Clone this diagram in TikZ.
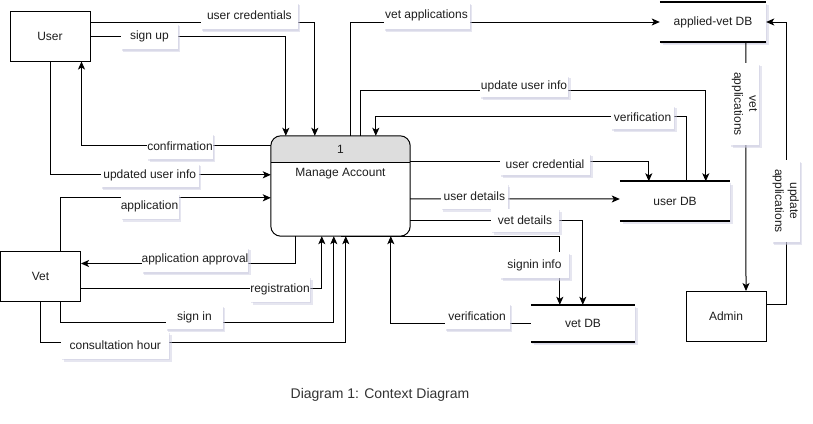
\documentclass[tikz,border=0pt]{standalone}
\usepackage{fontspec}
\setmainfont{Liberation Sans}
\usetikzlibrary{arrows.meta,calc,shadows}
\definecolor{shd}{RGB}{200,200,222}
\definecolor{hdr}{RGB}{221,221,221}
\definecolor{txt}{RGB}{30,30,30}
\begin{document}
\begin{tikzpicture}[x=1pt,y=-1pt,
  font=\fontsize{12}{15}\selectfont,
  ent/.style={draw, line width=1pt, fill=white, minimum width=80pt, minimum height=50pt, inner sep=0pt, text=txt},
  softshadow/.style={drop shadow={shadow xshift=1pt,shadow yshift=-1.5pt,fill=shd,opacity=0.45},
                     drop shadow={shadow xshift=2.5pt,shadow yshift=-3pt,fill=shd,opacity=0.45}},
  store/.style={fill=white, inner sep=0pt, text=txt, softshadow},
  storeline/.style={line width=2pt},
  flow/.style={draw, line width=1pt, -{Stealth[length=8pt,width=7pt,inset=2pt]}},
  lbl/.style={fill=white, inner sep=0pt, text=txt, softshadow}]
\useasboundingbox (0,0) rectangle (813,423);

% entities
\node[ent] (user) at (50,36) {User};
\node[ent] (vet) at (40.5,276.5) {Vet};
\node[ent] (admin) at (726,316.5) {Admin};

% data stores
\node[store, minimum width=110pt, minimum height=39pt] (udb) at (675,201) {user DB};
\node[store, minimum width=106pt, minimum height=40pt] (avdb) at (713,22) {applied-vet DB};
\node[store, minimum width=104pt, minimum height=37pt] (vdb) at (583,323.5) {vet DB};
\foreach \s in {udb,avdb,vdb}{
  \draw[storeline] (\s.north west) -- (\s.north east) (\s.south west) -- (\s.south east);
}

% process
\node[minimum width=139pt, minimum height=100pt, inner sep=0pt] (ma) at (340.5,186) {};
\begin{scope}
  \clip[rounded corners=10pt] (ma.north west) rectangle (ma.south east);
  \fill[hdr] (ma.north west) rectangle ($(ma.north east)+(0,27)$);
\end{scope}
\draw[line width=1pt, rounded corners=10pt] (ma.north west) rectangle (ma.south east);
\draw[line width=1pt] ($(ma.north west)+(0,27)$) -- ($(ma.north east)+(0,27)$);
\node[text=txt] (manum) at ($(ma.north)+(0,13.5)$) {1};
\node[text=txt] (matitle) at ($(ma.north)+(0,38)$) {Manage Account};

% flows: User
\draw[flow] ($(user.east)+(0,-14)$) -| ($(ma.north west)+(44,0)$);
\draw[flow] (user.east) -| ($(ma.north west)+(15,0)$);
\draw[flow] ($(ma.north west)+(0,10)$) -| ($(user.south east)+(-9,0)$);
\draw[flow] (user.south) |- ($(ma.north west)+(0,39)$);

% flows: Vet
\draw[flow] ($(vet.north)+(20,0)$) |- ($(ma.north west)+(0,62)$);
\draw[flow] ($(ma.south west)+(25,0)$) |- ($(vet.east)+(0,-13)$);
\draw[flow] ($(vet.east)+(0,12)$) -| ($(ma.south west)+(51,0)$);
\draw[flow] ($(vet.south)+(20,0)$) -- ++(0,20) -| ($(ma.south west)+(63,0)$);
\draw[flow] (vet.south) -- ++(0,40) -| ($(ma.south west)+(75,0)$);

% flows: stores
\draw[flow] ($(ma.north west)+(80,0)$) |- (avdb.west);
\draw[flow] ($(ma.north west)+(90,0)$) -- ++(0,-45) -| ($(udb.north west)+(86,0)$);
\draw[flow] ($(udb.north west)+(67,0)$) -- ++(0,-65) -| ($(ma.north west)+(105,0)$);
\draw[flow] ($(ma.north east)+(0,26)$) -| ($(udb.north west)+(29,0)$);
\draw[flow] ($(ma.north east)+(0,63)$) -- ($(udb.west)+(0,-2)$);
\draw[flow] ($(ma.north east)+(0,85)$) -| ($(vdb.north west)+(52,0)$);
\draw[flow] (ma.south) -| ($(vdb.north west)+(29,0)$);
\draw[flow] (vdb.west) -| ($(ma.south west)+(120,0)$);

% flows: Admin
\draw[flow] ($(avdb.south west)+(86,0)$) -- ($(admin.north)+(20,0)$);
\draw[flow] ($(admin.east)+(0,-12)$) -- ++(20,0) |- (avdb.east);

% labels
\node[lbl, minimum width=97pt, minimum height=27pt] (l1) at (249.4,15.5) {user credentials};
\node[lbl, minimum width=57pt, minimum height=26pt] (l2) at (149.4,36) {sign up};
\node[lbl, minimum width=64pt, minimum height=26pt] (l3) at (180,146) {confirmation};
\node[lbl, minimum width=98pt, minimum height=24pt] (l4) at (149.7,175) {updated user info};
\node[lbl, minimum width=58pt, minimum height=25pt] (l5) at (149.5,206) {application};
\node[lbl, minimum width=106pt, minimum height=25pt] (l6) at (195,259.5) {application approval};
\node[lbl, minimum width=60pt, minimum height=25pt] (l7) at (280,289.4) {registration};
\node[lbl, minimum width=57pt, minimum height=24pt] (l8) at (194.4,317) {sign in};
\node[lbl, minimum width=108pt, minimum height=27pt] (l9) at (115.3,345.3) {consultation hour};
\node[lbl, minimum width=86pt, minimum height=27pt] (l10) at (426.5,15.5) {vet applications};
\node[lbl, minimum width=88pt, minimum height=22pt] (l11) at (524,86) {update user info};
\node[lbl, minimum width=63pt, minimum height=24pt] (l12) at (642.5,117) {verification};
\node[lbl, minimum width=90pt, minimum height=22pt] (l13) at (545,164) {user credential};
\node[lbl, minimum width=67pt, minimum height=25pt] (l14) at (474.4,196) {user details};
\node[lbl, minimum width=68pt, minimum height=23pt] (l15) at (525,220) {vet details};
\node[lbl, minimum width=69pt, minimum height=26pt] (l16) at (534.5,265) {signin info};
\node[lbl, minimum width=65pt, minimum height=26pt] (l17) at (477,316) {verification};
\node[lbl, rotate=-90, align=center, minimum width=82pt, minimum height=29pt] (l18) at (744.5,104) {vet\\applications};
\node[lbl, rotate=-90, align=center, minimum width=82pt, minimum height=28pt] (l19) at (785.7,201) {update\\applications};

% caption
\node[text=black!80, font=\fontsize{14}{17}\selectfont] (cap) at (380,395) {Diagram 1: Context Diagram};
\end{tikzpicture}
\end{document}
